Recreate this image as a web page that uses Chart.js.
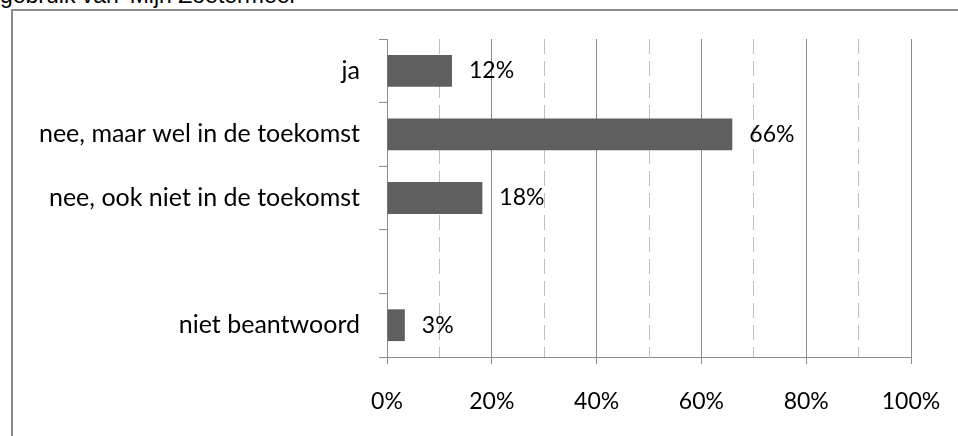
<!DOCTYPE html>
<html><head><meta charset="utf-8">
<script src="https://cdn.jsdelivr.net/npm/chart.js@4"></script>
<style>
html,body{margin:0;padding:0;width:958px;height:436px;overflow:hidden;background:#fff;}
#frame{position:absolute;left:11px;top:9px;width:1000px;height:500px;border:2px solid #8c8c8c;box-sizing:border-box;}
#title{position:absolute;left:0px;top:-16px;font-family:"Liberation Sans",Arial,sans-serif;font-size:23px;line-height:23px;color:#000;white-space:nowrap;}
canvas{position:absolute;left:0;top:0;}
</style></head><body>
<div id="title">gebruik van 'Mijn Zoetermeer'</div>
<div id="frame"></div>
<canvas id="c" width="958" height="436"></canvas>
<script>
const categories = ['ja', 'nee, maar wel in de toekomst', 'nee, ook niet in de toekomst', '', 'niet beantwoord'];
const values = [12.4, 65.9, 18.2, null, 3.4];
const xMin = 0;
const xMax = 100;
const majorStep = 20;
const minorStep = 10;

const FONT = 'Lato';
const FSIZE = 23;
const CAT_FSIZE = 25;

const labelPlugin = {
  id: 'barLabels',
  afterDatasetsDraw(chart) {
    const ctx = chart.ctx;
    const meta = chart.getDatasetMeta(0);
    ctx.save();
    ctx.font = FSIZE + 'px ' + FONT;
    ctx.fillStyle = '#000';
    ctx.textAlign = 'left';
    ctx.textBaseline = 'middle';
    meta.data.forEach((el, i) => {
      if (values[i] == null) return;
      ctx.fillText(Math.round(values[i]) + '%', el.x + 17, el.y);
    });
    ctx.restore();
  }
};

function draw() {
  new Chart(document.getElementById('c'), {
    type: 'bar',
    data: {
      labels: categories,
      datasets: [{
        data: values,
        backgroundColor: '#5f5f5f',
        borderWidth: 0,
        barPercentage: 0.5,
        categoryPercentage: 1
      }]
    },
    options: {
      indexAxis: 'y',
      responsive: false,
      animation: false,
      layout: { padding: { top: 39, right: 47, left: 0, bottom: 0 } },
      plugins: { legend: { display: false }, tooltip: { enabled: false } },
      scales: {
        y: {
          type: 'category',
          grid: { offset: true, drawOnChartArea: false, drawTicks: true, tickLength: 8, color: '#8c8c8c', lineWidth: 1 },
          border: { display: true, color: '#8c8c8c', width: 1 },
          ticks: { color: '#000', font: { family: FONT, size: CAT_FSIZE }, padding: 19, autoSkip: false },
          afterFit(s) { s.width = 387; }
        },
        x: {
          type: 'linear', min: xMin, max: xMax, position: 'bottom',
          ticks: { stepSize: majorStep, callback: v => v + '%', color: '#000', font: { family: FONT, size: FSIZE }, padding: 24 },
          grid: { color: '#8c8c8c', tickLength: 7, lineWidth: 1 },
          border: { display: true, color: '#8c8c8c', width: 1 },
          afterFit(s) { s.height = 79; s.paddingRight = 0; s.paddingLeft = 0; }
        },
        x2: {
          type: 'linear', min: xMin, max: xMax, position: 'top',
          ticks: { display: false, stepSize: minorStep },
          grid: {
            drawTicks: false, tickLength: 0, lineWidth: 1,
            color: c => (c.tick && c.tick.value % majorStep === 0) ? 'rgba(0,0,0,0)' : '#bfbfbf'
          },
          border: { display: false, dash: [15, 7] },
          afterFit(s) { s.height = 0; s.paddingRight = 0; s.paddingLeft = 0; }
        }
      }
    },
    plugins: [labelPlugin]
  });
}

if (document.fonts && document.fonts.load) {
  Promise.all([document.fonts.load(FSIZE + 'px ' + FONT), document.fonts.load(CAT_FSIZE + 'px ' + FONT)]).then(draw, draw);
} else { draw(); }
</script>
</body></html>
